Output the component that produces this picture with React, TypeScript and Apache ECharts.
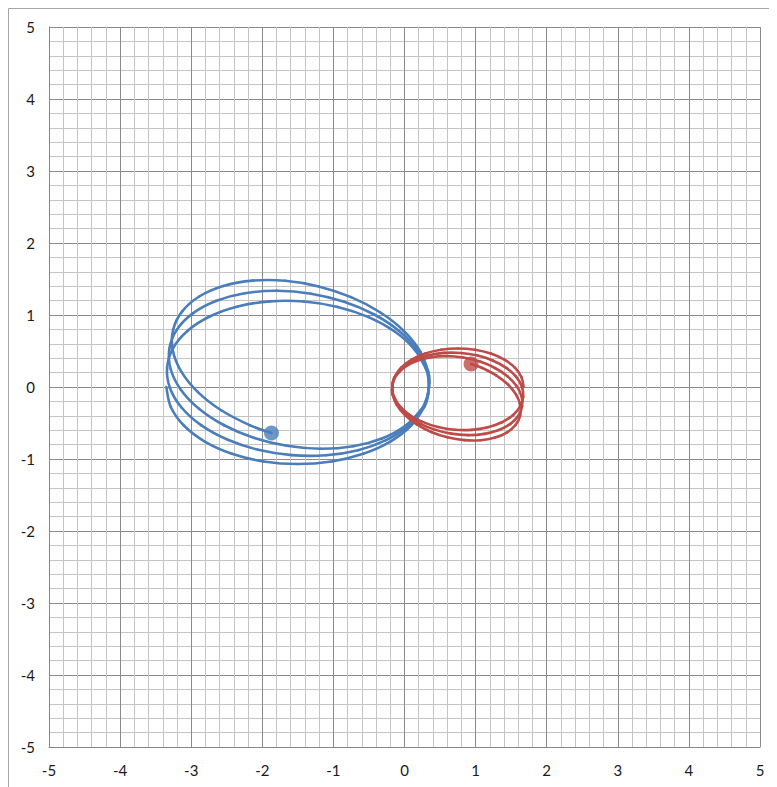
import React, { useEffect, useRef } from "react";
import * as echarts from "echarts";

// Blue body trajectory
const blueX = [
  -3.35, -3.287, -3.103, -2.809, -2.427, -1.982, -1.504, -1.026, -0.581, -0.199, 0.095, 0.279, 0.326,
  0.341, 0.336, 0.3, 0.137, -0.138, -0.505, -0.94, -1.414, -1.893, -2.345, -2.74, -3.05, -3.255, -3.339,
  -3.299, -3.136, -2.861, -2.493, -2.058, -1.585, -1.106, -0.653, -0.259, 0.052, 0.256, 0.314,
  0.338, 0.344, 0.32, 0.179, -0.076, -0.426, -0.849, -1.314, -1.792, -2.248, -2.653, -2.978, -3.201, -3.307,
  -3.289, -3.148, -2.894, -2.544, -2.121, -1.655, -1.178, -0.721, -0.317, 0.008, 0.231, 0.3,
  0.332, 0.35, 0.337, 0.219, -0.013, -0.344, -0.751, -1.207, -1.679, -2.137, -2.549, -2.887, -3.127, -3.254,
  -3.259, -3.141, -2.909, -2.578, -2.171, -1.871,
];
const blueY = [
  0, -0.277, -0.535, -0.757, -0.927, -1.034, -1.07, -1.034, -0.927, -0.757, -0.535, -0.277, -0.14,
  -0.027, 0.113, 0.254, 0.526, 0.77, 0.97, 1.112, 1.187, 1.189, 1.118, 0.979, 0.781, 0.539, 0.268,
  -0.013, -0.285, -0.53, -0.73, -0.872, -0.946, -0.948, -0.877, -0.738, -0.541, -0.298, -0.165,
  -0.055, 0.086, 0.229, 0.513, 0.779, 1.007, 1.184, 1.296, 1.336, 1.302, 1.195, 1.023, 0.797, 0.534,
  0.25, -0.034, -0.299, -0.528, -0.705, -0.817, -0.857, -0.822, -0.715, -0.543, -0.318, -0.19,
  -0.081, 0.058, 0.203, 0.497, 0.782, 1.038, 1.248, 1.397, 1.475, 1.477, 1.403, 1.257, 1.05, 0.796,
  0.512, 0.218, -0.067, -0.323, -0.533, -0.64,
];

// Red body trajectory
const redX = [
  1.675, 1.644, 1.552, 1.405, 1.214, 0.991, 0.752, 0.513, 0.291, 0.1, -0.048, -0.14, -0.163,
  -0.171, -0.168, -0.15, -0.069, 0.069, 0.253, 0.47, 0.707, 0.947, 1.173, 1.37, 1.525, 1.628, 1.67,
  1.65, 1.568, 1.431, 1.247, 1.029, 0.793, 0.553, 0.327, 0.13, -0.026, -0.128, -0.157,
  -0.169, -0.172, -0.16, -0.09, 0.038, 0.213, 0.425, 0.657, 0.896, 1.124, 1.327, 1.489, 1.601, 1.654,
  1.645, 1.574, 1.447, 1.272, 1.061, 0.828, 0.589, 0.361, 0.159, -0.004, -0.116, -0.15,
  -0.166, -0.175, -0.169, -0.11, 0.007, 0.172, 0.376, 0.604, 0.84, 1.069, 1.275, 1.444, 1.564, 1.627,
  1.63, 1.571, 1.455, 1.289, 1.086, 0.936,
];
const redY = [
  0, 0.139, 0.268, 0.379, 0.464, 0.517, 0.535, 0.517, 0.464, 0.379, 0.268, 0.139, 0.07,
  0.014, -0.057, -0.127, -0.263, -0.385, -0.485, -0.556, -0.594, -0.595, -0.559, -0.49, -0.391, -0.27, -0.134,
  0.007, 0.143, 0.265, 0.365, 0.436, 0.473, 0.474, 0.439, 0.369, 0.271, 0.149, 0.083,
  0.028, -0.043, -0.115, -0.257, -0.39, -0.504, -0.592, -0.648, -0.668, -0.651, -0.598, -0.512, -0.399, -0.267,
  -0.125, 0.017, 0.15, 0.264, 0.353, 0.409, 0.429, 0.411, 0.358, 0.272, 0.159, 0.095,
  0.041, -0.029, -0.102, -0.249, -0.391, -0.519, -0.624, -0.699, -0.738, -0.739, -0.702, -0.629, -0.525, -0.398,
  -0.256, -0.109, 0.034, 0.162, 0.267, 0.32,
];

const axisMin = -5;
const axisMax = 5;
const axisStep = 1;

const BLUE = "#4a7ebb";
const RED = "#be4b48";

// Smooth (Catmull-Rom) curve drawn segment by segment through the data points,
// each point placed with the chart's own coordinate system (api.coord).
function smoothSeries(points: number[][], color: string) {
  const n = points.length;
  return {
    type: "custom",
    data: points,
    encode: { x: 0, y: 1 },
    clip: true,
    z: 3,
    renderItem: (params: any, api: any) => {
      const i = params.dataIndex;
      if (i >= n - 1) return { type: "group", children: [] };
      const p0 = api.coord(points[Math.max(i - 1, 0)]);
      const p1 = api.coord(points[i]);
      const p2 = api.coord(points[i + 1]);
      const p3 = api.coord(points[Math.min(i + 2, n - 1)]);
      const t = 1 / 6;
      return {
        type: "bezierCurve",
        shape: {
          x1: p1[0],
          y1: p1[1],
          x2: p2[0],
          y2: p2[1],
          cpx1: p1[0] + (p2[0] - p0[0]) * t,
          cpy1: p1[1] + (p2[1] - p0[1]) * t,
          cpx2: p2[0] - (p3[0] - p1[0]) * t,
          cpy2: p2[1] - (p3[1] - p1[1]) * t,
        },
        style: { stroke: color, lineWidth: 2.6, fill: null, lineCap: "round" },
        silent: true,
      };
    },
  };
}

export default function App() {
  const ref = useRef<HTMLDivElement>(null);

  useEffect(() => {
    if (!ref.current) return;
    const chart = echarts.init(ref.current, undefined, { renderer: "svg" });

    const blue = blueX.map((x, i) => [x, blueY[i]]);
    const red = redX.map((x, i) => [x, redY[i]]);
    const blueEnd = [blue[blue.length - 1]];
    const redEnd = [red[red.length - 1]];

    const makeAxis = (isX: boolean) => ({
      type: "value",
      min: axisMin,
      max: axisMax,
      interval: axisStep,
      axisLine: { show: true, onZero: false, lineStyle: { color: "#868686", width: 1 } },
      axisTick: { show: false },
      minorTick: { show: false, splitNumber: 5 },
      splitLine: { show: true, lineStyle: { color: "#8a8a8a", width: 1 } },
      minorSplitLine: { show: true, lineStyle: { color: "#c4c4c4", width: 1 } },
      axisLabel: {
        color: "#1a1a1a",
        fontFamily: "Lato, 'Open Sans', sans-serif",
        fontSize: 15,
        margin: isX ? 15 : 14,
      },
    });

    chart.setOption({
      animation: false,
      backgroundColor: "#ffffff",
      grid: { left: 41, top: 19, right: 17, bottom: 40, containLabel: false },
      xAxis: makeAxis(true),
      yAxis: makeAxis(false),
      graphic: [
        {
          type: "rect",
          shape: { x: 0.5, y: 0.5, width: 1200, height: 1200 },
          style: { fill: "none", stroke: "#a6a6a6", lineWidth: 1 },
          silent: true,
        },
      ],
      series: [
        smoothSeries(blue, BLUE),
        smoothSeries(red, RED),
        {
          type: "scatter",
          data: blueEnd,
          symbol: "circle",
          symbolSize: 15,
          itemStyle: { color: BLUE },
          z: 4,
        },
        {
          type: "scatter",
          data: redEnd,
          symbol: "circle",
          symbolSize: 15,
          itemStyle: { color: RED },
          z: 4,
        },
      ],
    });

    return () => chart.dispose();
  }, []);

  return <div ref={ref} style={{ width: 769, height: 779 }} />;
}
